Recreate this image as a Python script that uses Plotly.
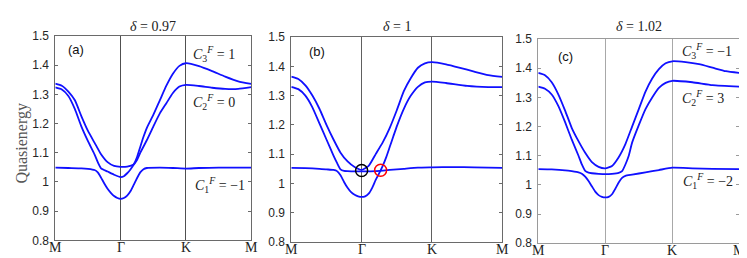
import plotly.graph_objects as go

# k-path positions and labels
k_ticks = [0, 1, 2, 3]
k_labels = ['M', 'Γ', 'K', 'M']
E_ticks = [0.8, 0.9, 1.0, 1.1, 1.2, 1.3, 1.4, 1.5]
E_labels = ['0.8', '0.9', '1', '1.1', '1.2', '1.3', '1.4', '1.5']

titles = ['<i>δ</i> = 0.97', '<i>δ</i> = 1', '<i>δ</i> = 1.02']
panel_tags = ['(a)', '(b)', '(c)']

# ---- panel (a), delta = 0.97
k_a_up = [0, 0.1, 0.2, 0.3, 0.4, 0.5, 0.6, 0.7, 0.8, 0.9, 1.0, 1.1, 1.2, 1.25, 1.3, 1.4, 1.5, 1.6,
          1.7, 1.8, 1.9, 2.0, 2.2, 2.4, 2.6, 2.8, 3.0]
E_a_up = [1.337, 1.33, 1.31, 1.28, 1.225, 1.175, 1.135, 1.095, 1.068, 1.055, 1.052, 1.053, 1.06,
          1.075, 1.1, 1.143, 1.19, 1.235, 1.27, 1.305, 1.327, 1.333, 1.329, 1.323, 1.319, 1.319, 1.325]
k_a_mid = [0, 0.1, 0.2, 0.3, 0.4, 0.5, 0.6, 0.65, 0.7, 0.8, 0.9, 1.0, 1.05, 1.1, 1.15, 1.2, 1.25,
           1.3, 1.35, 1.4, 1.5, 1.6, 1.7, 1.8, 1.9, 2.0, 2.2, 2.4, 2.6, 2.8, 3.0]
E_a_mid = [1.324, 1.317, 1.295, 1.25, 1.19, 1.14, 1.095, 1.068, 1.047, 1.036, 1.025, 1.017, 1.02,
           1.03, 1.043, 1.06, 1.085, 1.12, 1.155, 1.185, 1.23, 1.28, 1.33, 1.371, 1.398, 1.407,
           1.397, 1.38, 1.361, 1.345, 1.336]
k_a_low = [0, 0.2, 0.4, 0.5, 0.6, 0.65, 0.7, 0.75, 0.8, 0.85, 0.9, 0.95, 1.0, 1.05, 1.1, 1.15,
           1.2, 1.25, 1.3, 1.35, 1.4, 1.6, 1.8, 2.0, 2.2, 2.5, 3.0]
E_a_low = [1.049, 1.048, 1.047, 1.045, 1.041, 1.033, 1.015, 0.995, 0.977, 0.963, 0.952, 0.945,
           0.942, 0.945, 0.953, 0.968, 0.99, 1.013, 1.033, 1.044, 1.048, 1.049, 1.048, 1.046,
           1.048, 1.049, 1.049]

# ---- panel (b), delta = 1
k_b_up = [0, 0.1, 0.2, 0.3, 0.4, 0.5, 0.6, 0.7, 0.8, 0.9, 1.0, 1.1, 1.2, 1.3, 1.4, 1.5, 1.6, 1.7,
          1.8, 1.9, 2.0, 2.2, 2.4, 2.6, 2.8, 3.0]
E_b_up = [1.365, 1.357, 1.335, 1.3, 1.255, 1.2, 1.15, 1.105, 1.075, 1.056, 1.046, 1.06, 1.1, 1.14,
          1.19, 1.25, 1.315, 1.36, 1.395, 1.41, 1.414, 1.407, 1.395, 1.382, 1.37, 1.364]
k_b_mid = [0, 0.1, 0.2, 0.3, 0.4, 0.5, 0.6, 0.65, 0.7, 0.75, 0.8, 0.9, 1.0, 1.2, 1.4, 1.6, 1.8,
           2.0, 2.3, 2.6, 3.0]
E_b_mid = [1.33, 1.322, 1.3, 1.26, 1.205, 1.15, 1.095, 1.07, 1.048, 1.043, 1.042, 1.041, 1.041,
           1.042, 1.046, 1.05, 1.054, 1.055, 1.056, 1.055, 1.053]
k_b_low = [0, 0.2, 0.4, 0.5, 0.6, 0.65, 0.7, 0.75, 0.8, 0.85, 0.9, 0.95, 1.0, 1.05, 1.1, 1.15,
           1.2, 1.25, 1.3, 1.35, 1.4, 1.45, 1.5, 1.6, 1.7, 1.8, 1.9, 2.0, 2.2, 2.5, 2.8, 3.0]
E_b_low = [1.053, 1.052, 1.05, 1.048, 1.046, 1.042, 1.028, 1.005, 0.985, 0.97, 0.961, 0.956,
           0.954, 0.956, 0.965, 0.985, 1.012, 1.035, 1.06, 1.09, 1.125, 1.16, 1.195, 1.255, 1.3,
           1.33, 1.345, 1.348, 1.343, 1.333, 1.329, 1.329]

# ---- panel (c), delta = 1.02
k_c_up = [0, 0.1, 0.2, 0.3, 0.4, 0.5, 0.6, 0.7, 0.8, 0.9, 1.0, 1.1, 1.2, 1.3, 1.4, 1.5, 1.6, 1.7,
          1.8, 1.9, 2.0, 2.2, 2.4, 2.6, 2.8, 3.0]
E_c_up = [1.384, 1.376, 1.352, 1.31, 1.255, 1.195, 1.15, 1.11, 1.078, 1.062, 1.057, 1.065, 1.095,
          1.14, 1.2, 1.26, 1.32, 1.365, 1.397, 1.417, 1.424, 1.421, 1.414, 1.402, 1.39, 1.384]
k_c_mid = [0, 0.1, 0.2, 0.3, 0.4, 0.5, 0.6, 0.65, 0.7, 0.75, 0.8, 0.9, 1.0, 1.1, 1.2, 1.25, 1.3,
           1.35, 1.4, 1.5, 1.6, 1.7, 1.8, 1.9, 2.0, 2.3, 2.6, 3.0]
E_c_mid = [1.337, 1.33, 1.31, 1.27, 1.215, 1.155, 1.1, 1.07, 1.048, 1.042, 1.04, 1.038, 1.037,
           1.038, 1.041, 1.047, 1.07, 1.1, 1.145, 1.205, 1.26, 1.3, 1.333, 1.35, 1.357, 1.352,
           1.342, 1.337]
k_c_low = [0, 0.2, 0.4, 0.5, 0.6, 0.65, 0.7, 0.75, 0.8, 0.85, 0.9, 0.95, 1.0, 1.05, 1.1, 1.15,
           1.2, 1.25, 1.3, 1.4, 1.6, 1.8, 2.0, 2.3, 2.6, 3.0]
E_c_low = [1.054, 1.053, 1.05, 1.047, 1.043, 1.038, 1.028, 1.013, 0.995, 0.977, 0.965, 0.959,
           0.957, 0.959, 0.968, 0.987, 1.008, 1.024, 1.031, 1.035, 1.043, 1.051, 1.059, 1.057,
           1.055, 1.054]

# band crossing markers in panel (b)
circ_k = [1.0, 1.27]
circ_E = [1.044, 1.045]
circ_colors = ['black', 'red']

# Chern number labels
chern_a = ['<i>C</i><sub>3</sub><sup><i>F</i></sup> = 1',
           '<i>C</i><sub>2</sub><sup><i>F</i></sup> = 0',
           '<i>C</i><sub>1</sub><sup><i>F</i></sup> = −1']
chern_c = ['<i>C</i><sub>3</sub><sup><i>F</i></sup> = −1',
           '<i>C</i><sub>2</sub><sup><i>F</i></sup> = 3',
           '<i>C</i><sub>1</sub><sup><i>F</i></sup> = −2']

W, H = 747, 258
BLUE = '#1010ff'

# panel boxes in pixels: left, right, top, bottom
boxes = [(47.3, 243.3, 22.3, 238.3), (283.3, 494.3, 23.3, 240.0), (530.3, 731.3, 25.5, 241.3)]
box_col = ['#6a6a6a', '#6a6a6a', '#9a9a9a']
grid_col = ['#505050', '#606060', '#a8a8a8']

bands = [
    [(k_a_up, E_a_up), (k_a_mid, E_a_mid), (k_a_low, E_a_low)],
    [(k_b_up, E_b_up), (k_b_mid, E_b_mid), (k_b_low, E_b_low)],
    [(k_c_up, E_c_up), (k_c_mid, E_c_mid), (k_c_low, E_c_low)],
]

fig = go.Figure()
layout = dict(width=W, height=H, margin=dict(l=0, r=0, t=0, b=0),
              paper_bgcolor='white', plot_bgcolor='white', showlegend=False)
annotations = []

for i, (l, r, t, b) in enumerate(boxes):
    sfx = '' if i == 0 else str(i + 1)
    for kk, ee in bands[i]:
        fig.add_trace(go.Scatter(x=kk, y=ee, mode='lines', xaxis='x' + sfx, yaxis='y' + sfx,
                                 line=dict(color=BLUE, width=1.8, shape='spline', smoothing=0.5),
                                 hoverinfo='skip'))
    layout['xaxis' + sfx] = dict(
        domain=[l / W, r / W], anchor='y' + sfx, range=[0, 3],
        tickvals=k_ticks, showticklabels=False, ticks='',
        showgrid=True, gridcolor=grid_col[i], gridwidth=1, zeroline=False,
        showline=True, linecolor=box_col[i], linewidth=1, mirror=True)
    layout['yaxis' + sfx] = dict(
        domain=[1 - b / H, 1 - t / H], anchor='x' + sfx, range=[0.8, 1.5],
        tickvals=E_ticks, ticktext=E_labels, ticks='inside', ticklen=3,
        tickcolor=box_col[i], showgrid=False, zeroline=False,
        showline=True, linecolor=box_col[i], linewidth=1, mirror='ticks',
        ticklabelstandoff=3,
        tickfont=dict(family='Liberation Sans', size=12, color='#262626'))
    annotations.append(dict(text=titles[i], x=(l + r) / 2 / W, y=1 - 12 / H, xref='paper',
                            yref='paper', showarrow=False, xanchor='center', yanchor='middle',
                            font=dict(family='Liberation Serif', size=14, color='#222')))
    # k-point labels under each panel
    for kv, lab in zip(k_ticks, k_labels):
        annotations.append(dict(text=lab, x=kv, xref='x' + sfx, y=1 - (b + 7.5) / H,
                                yref='paper', showarrow=False, xanchor='center',
                                yanchor='middle',
                                font=dict(family='Liberation Serif', size=14, color='#222')))

fig.add_trace(go.Scatter(x=circ_k, y=circ_E, mode='markers', xaxis='x2', yaxis='y2',
                         marker=dict(symbol='circle-open', size=12, color=circ_colors,
                                     line=dict(width=1.5, color=circ_colors)),
                         hoverinfo='skip'))

tag_pos = [(68, 36), (309, 39), (557.7, 44)]
for tag, (x, y) in zip(panel_tags, tag_pos):
    annotations.append(dict(text=tag, x=x / W, y=1 - y / H, xref='paper', yref='paper',
                            showarrow=False, xanchor='center', yanchor='middle',
                            font=dict(family='Liberation Sans', size=13, color='#111')))

chern_pos_a = [(183.3, 41.7), (183.3, 92.3), (185, 180)]
chern_pos_c = [(672.3, 37.7), (672.3, 87.7), (673, 175)]
for txt, (x, y) in list(zip(chern_a, chern_pos_a)) + list(zip(chern_c, chern_pos_c)):
    annotations.append(dict(text=txt, x=x / W, y=1 - y / H, xref='paper', yref='paper',
                            showarrow=False, xanchor='left', yanchor='middle',
                            font=dict(family='Liberation Serif', size=14, color='#222')))

annotations.append(dict(text='Quasienergy', x=14 / W, y=1 - 136 / H, xref='paper',
                        yref='paper', showarrow=False, textangle=-90,
                        xanchor='center', yanchor='middle',
                        font=dict(family='Liberation Serif', size=16, color='#555')))

layout['annotations'] = annotations
fig.update_layout(**layout)
fig.write_html("out.html")
